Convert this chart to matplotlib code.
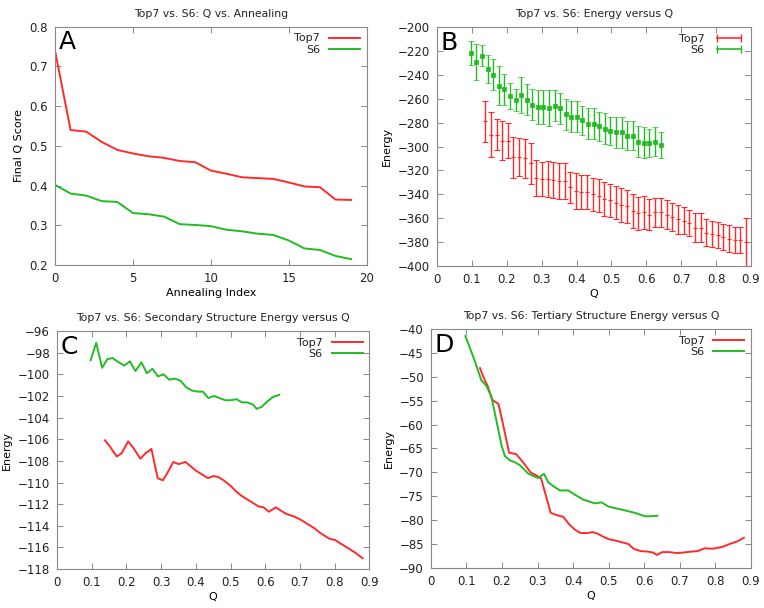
import numpy as np
import matplotlib
matplotlib.use("Agg")
import matplotlib.pyplot as plt
from matplotlib.lines import Line2D

# ---- data ----
# A: final Q score per annealing run
anneal_idx = list(range(20))
a_top7 = [0.740, 0.540, 0.536, 0.510, 0.490, 0.481, 0.474, 0.470, 0.462, 0.459,
          0.438, 0.430, 0.421, 0.419, 0.417, 0.408, 0.398, 0.396, 0.365, 0.364]
a_s6 = [0.402, 0.380, 0.375, 0.361, 0.359, 0.331, 0.328, 0.322, 0.303, 0.301,
        0.298, 0.289, 0.285, 0.279, 0.276, 0.262, 0.242, 0.238, 0.223, 0.215]

# B: energy vs Q with error bars
q_s6 = [0.097, 0.113, 0.129, 0.145, 0.161, 0.177, 0.193, 0.209, 0.225, 0.241,
        0.257, 0.273, 0.289, 0.305, 0.321, 0.337, 0.353, 0.369, 0.385, 0.401,
        0.417, 0.433, 0.449, 0.465, 0.481, 0.497, 0.513, 0.529, 0.545, 0.561,
        0.577, 0.593, 0.609, 0.625, 0.641]
b_s6 = [-222, -229, -224, -235, -240, -249, -252, -258, -261, -257,
        -261, -265, -267, -267, -268, -266, -268, -273, -275, -275,
        -278, -281, -281, -283, -285, -287, -288, -288, -291, -291,
        -296, -297, -297, -296, -299]
b_s6_err = [10, 15, 9, 12, 13, 16, 13, 11, 9, 15,
            13, 13, 14, 14, 15, 13, 13, 13, 13, 13,
            12, 13, 13, 12, 13, 12, 13, 13, 12, 12,
            13, 13, 12, 12, 11]

q_top7 = [0.138, 0.154, 0.171, 0.187, 0.203, 0.219, 0.236, 0.252, 0.268, 0.284,
          0.301, 0.317, 0.333, 0.349, 0.366, 0.382, 0.398, 0.414, 0.431, 0.447,
          0.463, 0.479, 0.496, 0.512, 0.528, 0.544, 0.561, 0.577, 0.593, 0.609,
          0.626, 0.642, 0.658, 0.674, 0.691, 0.707, 0.723, 0.739, 0.756, 0.772,
          0.788, 0.804, 0.821, 0.837, 0.853, 0.869, 0.886]
b_top7 = [-279, -290, -290, -295, -295, -309, -309, -310, -314, -326,
          -327, -327, -328, -329, -329, -334, -337, -338, -338, -340,
          -341, -344, -345, -347, -349, -350, -354, -356, -355, -357,
          -355, -355, -357, -359, -361, -362, -364, -368, -368, -372,
          -373, -374, -376, -377, -378, -378, -380]
b_top7_err = [17, 19, 13, 16, 15, 17, 16, 16, 17, 15,
              14, 15, 15, 15, 15, 13, 15, 14, 14, 14,
              14, 14, 14, 14, 14, 14, 14, 14, 14, 13,
              12, 12, 12, 12, 12, 11, 11, 12, 12, 11,
              11, 11, 11, 11, 11, 11, 20]

# C: secondary structure energy vs Q
c_q_top7 = [0.138, 0.153, 0.172, 0.186, 0.205, 0.220, 0.240, 0.255, 0.272, 0.290,
            0.305, 0.320, 0.335, 0.350, 0.370, 0.385, 0.400, 0.420, 0.435, 0.450,
            0.465, 0.480, 0.500, 0.515, 0.530, 0.550, 0.565, 0.580, 0.595, 0.610,
            0.630, 0.645, 0.660, 0.680, 0.700, 0.720, 0.740, 0.760, 0.785, 0.800,
            0.820, 0.840, 0.860, 0.880]
c_top7 = [-106.1, -106.7, -107.6, -107.3, -106.2, -106.8, -107.8, -107.3, -106.9, -109.6,
          -109.8, -109.0, -108.1, -108.3, -108.1, -108.5, -108.9, -109.3, -109.6, -109.4,
          -109.5, -109.8, -110.3, -110.8, -111.2, -111.6, -111.9, -112.2, -112.3, -112.7,
          -112.3, -112.6, -112.9, -113.1, -113.4, -113.8, -114.2, -114.7, -115.2, -115.3,
          -115.7, -116.1, -116.5, -117.0]
c_q_s6 = [0.097, 0.113, 0.130, 0.145, 0.160, 0.178, 0.194, 0.210, 0.226, 0.243,
          0.259, 0.275, 0.291, 0.307, 0.323, 0.340, 0.356, 0.372, 0.388, 0.404,
          0.420, 0.436, 0.452, 0.468, 0.485, 0.501, 0.517, 0.533, 0.549, 0.565,
          0.575, 0.590, 0.606, 0.622, 0.640]
c_s6 = [-98.7, -97.1, -99.4, -98.6, -98.5, -98.9, -99.2, -98.8, -99.7, -98.9,
        -99.9, -99.5, -100.2, -100.0, -100.5, -100.4, -100.6, -101.2, -101.5, -101.6,
        -101.6, -102.2, -102.0, -102.2, -102.4, -102.4, -102.3, -102.6, -102.6, -102.8,
        -103.2, -103.0, -102.5, -102.1, -101.9]

# D: tertiary structure energy vs Q
d_q_top7 = [0.138, 0.150, 0.160, 0.172, 0.190, 0.200, 0.220, 0.240, 0.260, 0.280,
            0.300, 0.310, 0.320, 0.337, 0.355, 0.372, 0.390, 0.405, 0.420, 0.440,
            0.455, 0.470, 0.485, 0.500, 0.520, 0.540, 0.555, 0.570, 0.590, 0.610,
            0.625, 0.635, 0.650, 0.670, 0.690, 0.710, 0.730, 0.750, 0.770, 0.790,
            0.800, 0.820, 0.840, 0.860, 0.880]
d_top7 = [-48.2, -50.5, -52.0, -54.8, -55.7, -59.0, -65.9, -66.2, -68.0, -70.0,
          -70.8, -71.3, -74.0, -78.5, -79.0, -79.3, -81.0, -82.0, -82.7, -82.7,
          -82.5, -82.9, -83.5, -84.0, -84.3, -84.7, -85.0, -86.0, -86.5, -86.6,
          -86.8, -87.3, -86.7, -86.7, -86.9, -86.8, -86.6, -86.5, -85.9, -86.0,
          -85.9, -85.6, -85.0, -84.5, -83.7]
d_q_s6 = [0.097, 0.120, 0.142, 0.155, 0.170, 0.185, 0.199, 0.208, 0.222, 0.236,
          0.250, 0.274, 0.302, 0.318, 0.330, 0.344, 0.363, 0.386, 0.405, 0.428,
          0.461, 0.480, 0.500, 0.536, 0.574, 0.602, 0.616, 0.637]
d_s6 = [-41.5, -46.0, -50.8, -51.8, -54.1, -59.5, -64.5, -66.6, -67.5, -67.9,
        -68.5, -70.3, -71.2, -70.3, -72.1, -72.9, -73.8, -73.8, -74.7, -75.7,
        -76.5, -76.3, -77.2, -77.8, -78.5, -79.2, -79.2, -79.1]

RED = "#ff2a2a"
GREEN = "#22bb22"
Q_LABELS = ["0", "0.1", "0.2", "0.3", "0.4", "0.5", "0.6", "0.7", "0.8", "0.9"]

plt.rcParams["font.family"] = "DejaVu Sans"
plt.rcParams["text.color"] = "#222222"
fig = plt.figure(figsize=(7.64, 6.08), dpi=100)


def style(ax, title, xlabel, ylabel, letter):
    ax.set_title(title, fontsize=7.8, pad=7)
    ax.set_xlabel(xlabel, fontsize=8, labelpad=2)
    ax.set_ylabel(ylabel, fontsize=8, labelpad=4)
    ax.tick_params(direction="in", top=True, right=True, length=4,
                   width=0.6, color="#777777", labelsize=8.5, pad=5,
                   labelcolor="#222222")
    for s in ax.spines.values():
        s.set_color("#888888")
        s.set_linewidth(0.8)
    ax.text(0.012, 0.985, letter, transform=ax.transAxes, fontsize=18,
            va="top", ha="left", color="black")


def legend(ax, handles=None, labels=None, **kw):
    args = [] if handles is None else [handles, labels]
    ax.legend(*args, loc="upper right", frameon=False, markerfirst=False,
              fontsize=8, handlelength=2.8, labelspacing=0.1,
              borderaxespad=0.2, **kw)


# A
axA = fig.add_axes([0.072, 0.564, 0.408, 0.392])
axA.plot(anneal_idx, a_top7, color=RED, lw=1.4, label="Top7")
axA.plot(anneal_idx, a_s6, color=GREEN, lw=1.4, label="S6")
axA.set_xlim(0, 20)
axA.set_ylim(0.2, 0.8)
axA.set_xticks([0, 5, 10, 15, 20])
axA.set_yticks([0.2, 0.3, 0.4, 0.5, 0.6, 0.7, 0.8])
style(axA, "Top7 vs. S6: Q vs. Annealing", "Annealing Index", "Final Q Score", "A")
legend(axA)

# B
axB = fig.add_axes([0.572, 0.5625, 0.411, 0.393])
axB.errorbar(q_top7, b_top7, yerr=b_top7_err, color=RED, lw=1.0, marker="+",
             ms=3, mew=0.8, capsize=2, elinewidth=1.0, linestyle="none")
axB.errorbar(q_s6, b_s6, yerr=b_s6_err, color=GREEN, lw=1.0, marker="s",
             ms=2.5, mew=0.5, capsize=2, elinewidth=1.0, linestyle="none")
axB.set_xlim(0, 0.9)
axB.set_ylim(-400, -200)
axB.set_xticks(np.round(np.arange(0, 0.91, 0.1), 1))
axB.set_xticklabels(Q_LABELS)
axB.set_yticks(range(-400, -199, 20))
style(axB, "Top7 vs. S6: Energy versus Q", "Q", "Energy", "B")
hB = [Line2D([0], [0], color=RED, lw=1.2, marker="|", ms=6),
      Line2D([0], [0], color=GREEN, lw=1.2, marker="|", ms=6)]
legend(axB, hB, ["Top7", "S6"], numpoints=2)

# C
axC = fig.add_axes([0.0746, 0.064, 0.409, 0.3916])
axC.plot(c_q_top7, c_top7, color=RED, lw=1.4, label="Top7")
axC.plot(c_q_s6, c_s6, color=GREEN, lw=1.4, label="S6")
axC.set_xlim(0, 0.9)
axC.set_ylim(-118, -96)
axC.set_xticks(np.round(np.arange(0, 0.91, 0.1), 1))
axC.set_xticklabels(Q_LABELS)
axC.set_yticks(range(-118, -95, 2))
style(axC, "Top7 vs. S6: Secondary Structure Energy versus Q", "Q", "Energy", "C")
legend(axC)

# D
axD = fig.add_axes([0.564, 0.066, 0.419, 0.393])
axD.plot(d_q_top7, d_top7, color=RED, lw=1.4, label="Top7")
axD.plot(d_q_s6, d_s6, color=GREEN, lw=1.4, label="S6")
axD.set_xlim(0, 0.9)
axD.set_ylim(-90, -40)
axD.set_xticks(np.round(np.arange(0, 0.91, 0.1), 1))
axD.set_xticklabels(Q_LABELS)
axD.set_yticks(range(-90, -39, 5))
style(axD, "Top7 vs. S6: Tertiary Structure Energy versus Q", "Q", "Energy", "D")
legend(axD)

fig.savefig("out.png", dpi=100)
